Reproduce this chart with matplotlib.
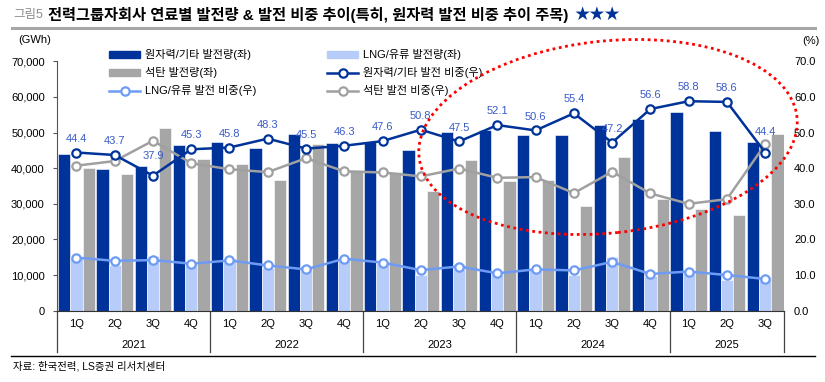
import matplotlib
matplotlib.use('Agg')
import matplotlib.pyplot as plt
import numpy as np
from matplotlib.patches import Ellipse
from matplotlib.lines import Line2D
from matplotlib.transforms import IdentityTransform

plt.rcParams['font.family'] = ['Liberation Sans', 'Noto Sans CJK KR', 'DejaVu Sans']

# data
quarters = ['1Q', '2Q', '3Q', '4Q'] * 4 + ['1Q', '2Q', '3Q']
years = ['2021', '2022', '2023', '2024', '2025']
year_len = [4, 4, 4, 4, 3]

nuclear_gwh = [43900, 39800, 40650, 46500, 47400, 45600, 49600, 47000, 47450, 45150,
               50250, 50800, 49400, 49350, 52150, 53750, 55900, 50450, 47400]
lng_gwh = [14700, 12900, 15300, 13600, 14700, 12000, 12600, 14850, 13450, 10100,
           13200, 10300, 11450, 10100, 15200, 9800, 10550, 8700, 9550]
coal_gwh = [40100, 38400, 51200, 42500, 41300, 36700, 46800, 39600, 38800, 33600,
            42300, 36400, 36700, 29500, 43100, 31400, 28500, 26900, 49700]

nuclear_pct = [44.4, 43.7, 37.9, 45.3, 45.8, 48.3, 45.5, 46.3, 47.6, 50.8,
               47.5, 52.1, 50.6, 55.4, 47.2, 56.6, 58.8, 58.6, 44.4]
lng_pct = [14.9, 14.0, 14.2, 13.2, 14.1, 12.7, 11.6, 14.6, 13.5, 11.4,
           12.4, 10.5, 11.6, 11.3, 13.7, 10.3, 11.0, 10.0, 8.9]
coal_pct = [40.7, 42.0, 47.7, 41.4, 39.7, 38.9, 42.8, 39.1, 38.8, 37.7,
            39.9, 37.3, 37.5, 33.0, 39.0, 32.9, 30.0, 31.3, 46.7]

c_nuc = '#003399'
c_lng_bar = '#B7CCF8'
c_lng_line = '#6E9BF4'
c_coal = '#A6A6A6'
c_label = '#3A5BC8'
fs = 8

W, H = 825, 382
fig = plt.figure(figsize=(W / 100, H / 100), dpi=100)

# axes box in pixels (from reference)
x0, x1 = 57.3, 784.3
y_top, y_bot = 61.3, 310.7
ax = fig.add_axes([x0 / W, 1 - y_bot / H, (x1 - x0) / W, (y_bot - y_top) / H])
ax2 = ax.twinx()

n = len(quarters)
x = np.arange(n)
bw = 0.32

ax.bar(x - bw, nuclear_gwh, bw, color=c_nuc, edgecolor='white', linewidth=0.4, zorder=2)
ax.bar(x, lng_gwh, bw, color=c_lng_bar, edgecolor='white', linewidth=0.4, zorder=2)
ax.bar(x + bw, coal_gwh, bw, color=c_coal, edgecolor='white', linewidth=0.4, zorder=2)

ax.set_xlim(-0.5, n - 0.5)
ax.set_ylim(0, 70000)
ax.set_yticks(np.arange(0, 70001, 10000))
ax.set_yticklabels(['{:,}'.format(v) for v in range(0, 70001, 10000)], fontsize=fs)
ax.tick_params(axis='y', direction='out', length=3, width=0.8, pad=6, color='#555555')

ax2.set_ylim(0, 70)
ax2.set_yticks(np.arange(0, 71, 10))
ax2.set_yticklabels(['{:.1f}'.format(v) for v in range(0, 71, 10)], fontsize=fs)
ax2.tick_params(axis='y', length=0, pad=7)

mk = dict(marker='o', markersize=6, markerfacecolor='white', markeredgewidth=1.6)
ax2.plot(x, coal_pct, color='#A0A0A0', lw=1.8, markeredgecolor='#A0A0A0', zorder=3, **mk)
ax2.plot(x, lng_pct, color=c_lng_line, lw=1.8, markeredgecolor=c_lng_line, zorder=3, **mk)
ax2.plot(x, nuclear_pct, color=c_nuc, lw=1.8, markeredgecolor=c_nuc, zorder=4, **mk)

for i, v in enumerate(nuclear_pct):
    dy = 10
    if i == 2:
        dy = 14
    if i == n - 1:
        dy = 15
    ax2.annotate('{:.1f}'.format(v), (x[i], v), xytext=(0, dy), textcoords='offset points',
                 ha='center', va='center', fontsize=fs, color=c_label, zorder=5)

for a in (ax, ax2):
    a.spines['top'].set_visible(False)
    a.spines['right'].set_visible(False)
ax2.spines['left'].set_visible(False)
ax2.spines['bottom'].set_visible(False)
ax.spines['left'].set_color('#555555')
ax.spines['bottom'].set_color('#333333')

# category axis: quarters, years and separators
ax.set_xticks(x)
ax.set_xticklabels(quarters, fontsize=fs)
ax.tick_params(axis='x', length=0, pad=6)

sep_depth = -(352 - y_bot) / (y_bot - y_top)
trans = ax.get_xaxis_transform()
edges = [-0.5]
for k in year_len:
    edges.append(edges[-1] + k)
for e in edges:
    ax.plot([e, e], [0, sep_depth], transform=trans, color='#444444', lw=0.9, clip_on=False)
for i, yr in enumerate(years):
    mid = (edges[i] + edges[i + 1]) / 2
    ax.text(mid, -(345 - y_bot) / (y_bot - y_top), yr, transform=trans,
            ha='center', va='center', fontsize=fs)

# legend, two columns placed separately
h_nuc = plt.Rectangle((0, 0), 1, 1, color=c_nuc)
h_lng = plt.Rectangle((0, 0), 1, 1, color=c_lng_bar)
h_coal = plt.Rectangle((0, 0), 1, 1, color=c_coal)
l_nuc = Line2D([], [], color=c_nuc, lw=1.8, markeredgecolor=c_nuc, **mk)
l_lng = Line2D([], [], color=c_lng_line, lw=1.8, markeredgecolor=c_lng_line, **mk)
l_coal = Line2D([], [], color='#A0A0A0', lw=1.8, markeredgecolor='#A0A0A0', **mk)

leg_kw = dict(loc='upper left', frameon=False, fontsize=fs, handlelength=2.8,
              handleheight=0.5, handletextpad=0.4, labelspacing=0.62,
              borderpad=0, borderaxespad=0)
leg1 = fig.legend([h_nuc, h_coal, l_lng],
                  ['원자력/기타 발전량(좌)', '석탄 발전량(좌)', 'LNG/유류 발전 비중(우)'],
                  bbox_to_anchor=(109 / W, 1 - 49.5 / H), **leg_kw)
leg2 = fig.legend([h_lng, l_nuc, l_coal],
                  ['LNG/유류 발전량(좌)', '원자력/기타 발전 비중(우)', '석탄 발전 비중(우)'],
                  bbox_to_anchor=(327 / W, 1 - 49.5 / H), **leg_kw)

# unit labels
fig.text(18 / W, 1 - 40 / H, '(GWh)', fontsize=fs, va='center')
fig.text(802 / W, 1 - 41 / H, '(%)', fontsize=fs, va='center')

# title
fig.text(13 / W, 1 - 15 / H, '그림5', fontsize=9, color='#8C8C8C', va='center')
title = fig.text(48 / W, 1 - 15 / H,
                 '전력그룹자회사 연료별 발전량 & 발전 비중 추이(특히, 원자력 발전 비중 추이 주목)',
                 fontsize=11, fontweight='bold', va='center')
fig.canvas.draw()
tb = title.get_window_extent()
fig.text((tb.x1 + 6) / W, 1 - 15 / H, '★★★', fontsize=11, color=c_nuc, va='center',
         family=['Noto Sans CJK KR', 'DejaVu Sans'])
fig.add_artist(Line2D([12 / W, 815 / W], [1 - 27.5 / H, 1 - 27.5 / H], color='#A6A6A6', lw=2.2))

# source
fig.add_artist(Line2D([11 / W, 815 / W], [1 - 356 / H, 1 - 356 / H], color='black', lw=1.0))
fig.text(13 / W, 1 - 366 / H, '자료: 한국전력, LS증권 리서치센터', fontsize=7.5, va='center')

# red dotted ellipse highlight
ell = Ellipse((608, H - 137), width=380, height=192, angle=6, transform=IdentityTransform(),
              fill=False, edgecolor='#FF0000', lw=2.0, linestyle=(0, (1, 1.3)), zorder=10)
fig.add_artist(ell)

fig.savefig('out.png', dpi=100)
